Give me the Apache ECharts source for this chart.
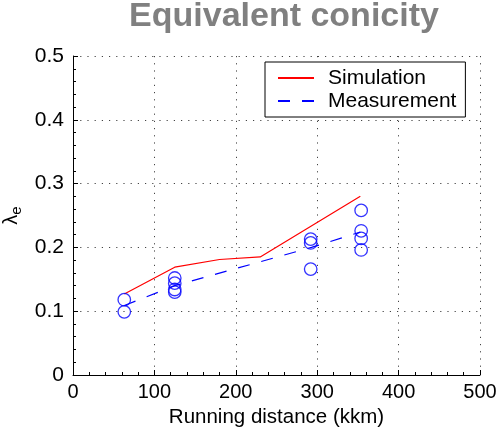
<!DOCTYPE html>
<html><head><meta charset="utf-8">
<script src="https://cdn.jsdelivr.net/npm/echarts@6/dist/echarts.min.js"></script>
<style>html,body{margin:0;padding:0;background:#fff}#c{width:499px;height:432px}</style>
</head><body><div id="c"></div>
<script>
// Data
const simDistance = [63, 125, 180, 230, 353];
const simConicity = [0.127, 0.169, 0.181, 0.185, 0.280];
const measMeanDistance = [63, 125, 293, 353];
const measMeanConicity = [0.109, 0.140, 0.200, 0.224];
const measDistance = [63, 63, 125, 125, 125, 125, 292, 292, 292, 354, 354, 354, 354];
const measConicity = [0.118, 0.099, 0.152, 0.144, 0.134, 0.130, 0.213, 0.207, 0.166, 0.258, 0.226, 0.214, 0.196];
const xTicks = [0, 100, 200, 300, 400, 500];
const yTicks = [0, 0.1, 0.2, 0.3, 0.4, 0.5];

const font = 'Liberation Sans, Arial, Helvetica, sans-serif';
const chart = echarts.init(document.getElementById('c'), null, {renderer: 'canvas'});
const zip = (a, b) => a.map((v, i) => [v, b[i]]);
const axisCommon = {
  axisLine: {show: true, lineStyle: {color: '#000', width: 1}},
  axisTick: {show: true, inside: true, length: 5, lineStyle: {color: '#000'}},
  minorTick: {show: true, splitNumber: 5, length: 3, lineStyle: {color: '#000'}},
  splitLine: {show: true, lineStyle: {color: '#444', type: [1.2, 6], width: 1}}
};
chart.setOption({
  animation: false,
  title: {
    text: 'Equivalent conicity', left: 284, top: 0, padding: 0, textAlign: 'center',
    textStyle: {fontSize: 34, fontWeight: 'bold', color: '#808080', fontFamily: font}
  },
  grid: {left: 73, right: 19, top: 56, bottom: 57, containLabel: false, outerBoundsMode: 'none'},
  legend: {
    data: ['Simulation', 'Measurement'], orient: 'vertical', left: 265, top: 62,
    itemWidth: 36, itemHeight: 10, itemGap: 1,
    padding: [5, 9, 5, 12],
    borderColor: '#000', borderWidth: 1, borderRadius: 0,
    backgroundColor: '#fff',
    itemStyle: {opacity: 0},
    textStyle: {fontSize: 21, lineHeight: 22, color: '#000', fontFamily: font, padding: [0, 0, 0, 9]}
  },
  xAxis: Object.assign({
    type: 'value', min: xTicks[0], max: xTicks[xTicks.length - 1], interval: 100,
    name: 'Running distance (kkm)', nameLocation: 'middle', nameGap: 31,
    nameTextStyle: {fontSize: 20.5, color: '#000', fontFamily: font}
  }, axisCommon, {axisLabel: {color: '#000', fontSize: 20, fontFamily: font, margin: 7}}),
  yAxis: Object.assign({
    type: 'value', min: yTicks[0], max: yTicks[yTicks.length - 1], interval: 0.1,
    name: '{a|λ}{b|e}', nameLocation: 'middle', nameGap: 48, nameRotate: 90,
    nameTextStyle: {
      color: '#000', fontFamily: font,
      rich: {
        a: {fontSize: 20, color: '#000', fontFamily: font},
        b: {fontSize: 15, color: '#000', fontFamily: font, padding: [9, 0, 0, 0]}
      }
    }
  }, axisCommon, {axisLabel: {color: '#000', fontSize: 21, fontFamily: font, margin: 9}}),
  series: [
    {
      name: 'Simulation', type: 'line', data: zip(simDistance, simConicity),
      symbol: 'none', lineStyle: {color: '#ff0000', width: 1.2}, itemStyle: {color: '#ff0000'}, z: 3
    },
    {
      name: 'Measurement', type: 'line', data: zip(measMeanDistance, measMeanConicity),
      symbol: 'none', lineStyle: {color: '#0000ff', width: 1.2, type: [12, 12]}, itemStyle: {color: '#0000ff'}, z: 3
    },
    {
      name: 'MeasPoints', type: 'scatter', data: zip(measDistance, measConicity),
      symbol: 'circle', symbolSize: 12.5,
      itemStyle: {color: 'rgba(0,0,0,0)', borderColor: '#0000ff', borderWidth: 1.3}, z: 4
    }
  ]
});
</script></body></html>
